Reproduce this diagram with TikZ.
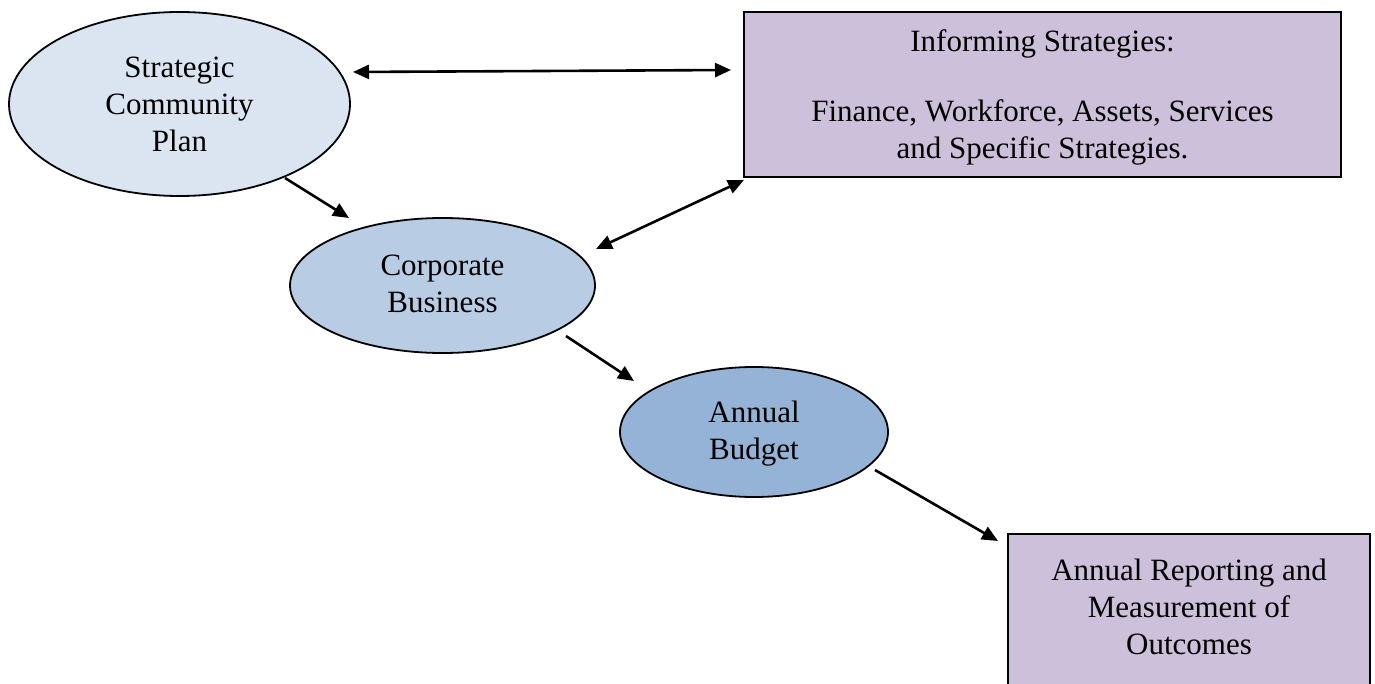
\documentclass[tikz,border=0pt]{standalone}
\usepackage{fontspec}
\setmainfont{Liberation Serif}
\usetikzlibrary{shapes.geometric,arrows.meta}
\definecolor{planfill}{HTML}{DBE5F1}
\definecolor{corpfill}{HTML}{B8CCE4}
\definecolor{budgetfill}{HTML}{95B3D7}
\definecolor{boxfill}{HTML}{CCC0DA}
\begin{document}
\begin{tikzpicture}[x=1pt,y=-1pt,
  oval/.style={ellipse,draw=black,line width=1.8pt,inner sep=0pt},
  panel/.style={rectangle,draw=black,line width=1.8pt,fill=boxfill,inner sep=0pt},
  label/.style={align=center,font=\fontsize{31}{37}\selectfont,inner sep=0pt},
  link/.style={line width=2.6pt,-{Triangle[length=16pt,width=14pt]}},
  twoway/.style={line width=2.6pt,{Triangle[length=16pt,width=14pt]}-{Triangle[length=16pt,width=14pt]}}]
\useasboundingbox (0,0) rectangle (1375,684);
\clip (0,0) rectangle (1375,684);

% shapes
\node[oval,fill=planfill,minimum width=341pt,minimum height=184pt] (plan) at (179.5,104) {};
\node[oval,fill=corpfill,minimum width=305pt,minimum height=135pt] (corp) at (442.5,285.5) {};
\node[oval,fill=budgetfill,minimum width=268pt,minimum height=130pt] (budget) at (754,432) {};
\node[panel,minimum width=597pt,minimum height=165pt] (inform) at (1042.5,94.5) {};
\node[panel,minimum width=362pt,minimum height=200pt,anchor=north] (report) at (1189,533) {};

% texts
\node[label] (planText) at (plan.center) {Strategic\\Community\\Plan};
\node[label] (corpText) at (442.5,284) {Corporate\\Business};
\node[label] (budgetText) at (754,433.5) {Annual\\Budget};
\node[label] (informText) at (1042.5,97) {Informing Strategies:\\[33pt]Finance, Workforce, Assets, Services\\and Specific Strategies.};
\node[label] (reportText) at (1189,607) {Annual Reporting and\\Measurement of\\Outcomes};

% connector end points
\coordinate (planR) at (353,72);
\coordinate (informL) at (731,70);
\coordinate (planB) at (285,178);
\coordinate (corpT) at (349,218);
\coordinate (corpR) at (596,249);
\coordinate (informB) at (744,180);
\coordinate (corpB) at (566,336);
\coordinate (budgetT) at (634,381);
\coordinate (budgetR) at (875,470);
\coordinate (reportL) at (998,541);

% connectors
\draw[twoway] (planR) -- (informL);
\draw[link] (planB) -- (corpT);
\draw[twoway] (corpR) -- (informB);
\draw[link] (corpB) -- (budgetT);
\draw[link] (budgetR) -- (reportL);
\end{tikzpicture}
\end{document}
